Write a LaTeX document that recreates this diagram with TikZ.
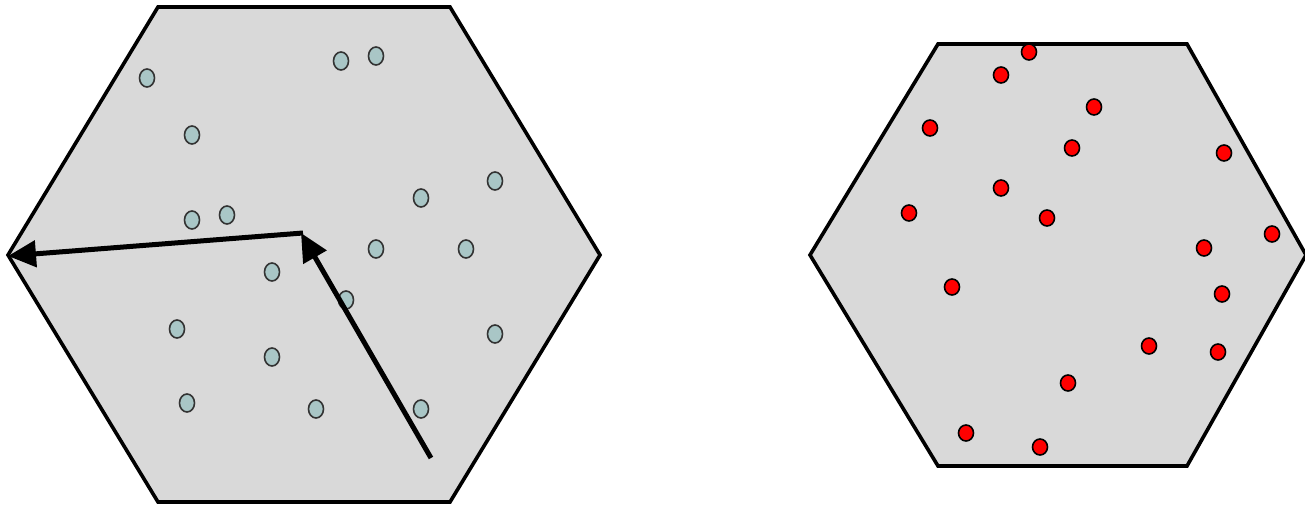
\documentclass[tikz,border=0pt]{standalone}
\usetikzlibrary{shapes.geometric,arrows.meta}
\definecolor{hexfill}{HTML}{D9D9D9}
\definecolor{dotteal}{HTML}{A9C6C6}
\definecolor{dotred}{HTML}{FF0000}
\begin{document}
\begin{tikzpicture}[x=1pt,y=-1pt,
  hexagon/.style={draw=black,line width=3.6pt,fill=hexfill,line join=miter},
  tealdot/.style={ellipse,draw=black!80,line width=1.6pt,fill=dotteal,minimum width=15pt,minimum height=18pt,inner sep=0pt},
  reddot/.style={ellipse,draw=black,line width=1.6pt,fill=dotred,minimum width=15pt,minimum height=16pt,inner sep=0pt},
  bigarrow/.style={line width=5pt,-{Triangle[length=28pt,width=26pt]}}]
\useasboundingbox (0,0) rectangle (1305,505);
% left hexagon
\draw[hexagon] (158,7) -- (450,7) -- (600,255) -- (450,502) -- (158,502) -- (8,255) -- cycle;
% right hexagon
\draw[hexagon] (938,44) -- (1187,44) -- (1306,255) -- (1187,466) -- (938,466) -- (810,255) -- cycle;
% left dots
\foreach \x/\y [count=\i] in {147/78,192/135,341/61,376/56,421/198,495/181,192/220,227/215,376/249,466/249,272/272,346/300,177/329,272/357,495/334,187/403,316/409,421/409}
  \node[tealdot] (l\i) at (\x,\y) {};
% right dots
\foreach \x/\y [count=\i] in {1029/52,1001/75,1094/107,930/128,1072/148,1224/153,1001/188,1047/218,909/213,1204/248,1272/234,952/287,1222/294,1149/346,1218/352,1068/383,966/433,1040/447}
  \node[reddot] (r\i) at (\x,\y) {};
% arrows
\coordinate (start) at (431,458);
\coordinate (mid) at (301,233);
\coordinate (tip) at (8,256);
\draw[bigarrow] (start) -- (mid);
\draw[bigarrow] ([xshift=2pt]mid) -- (tip);
\end{tikzpicture}
\end{document}
